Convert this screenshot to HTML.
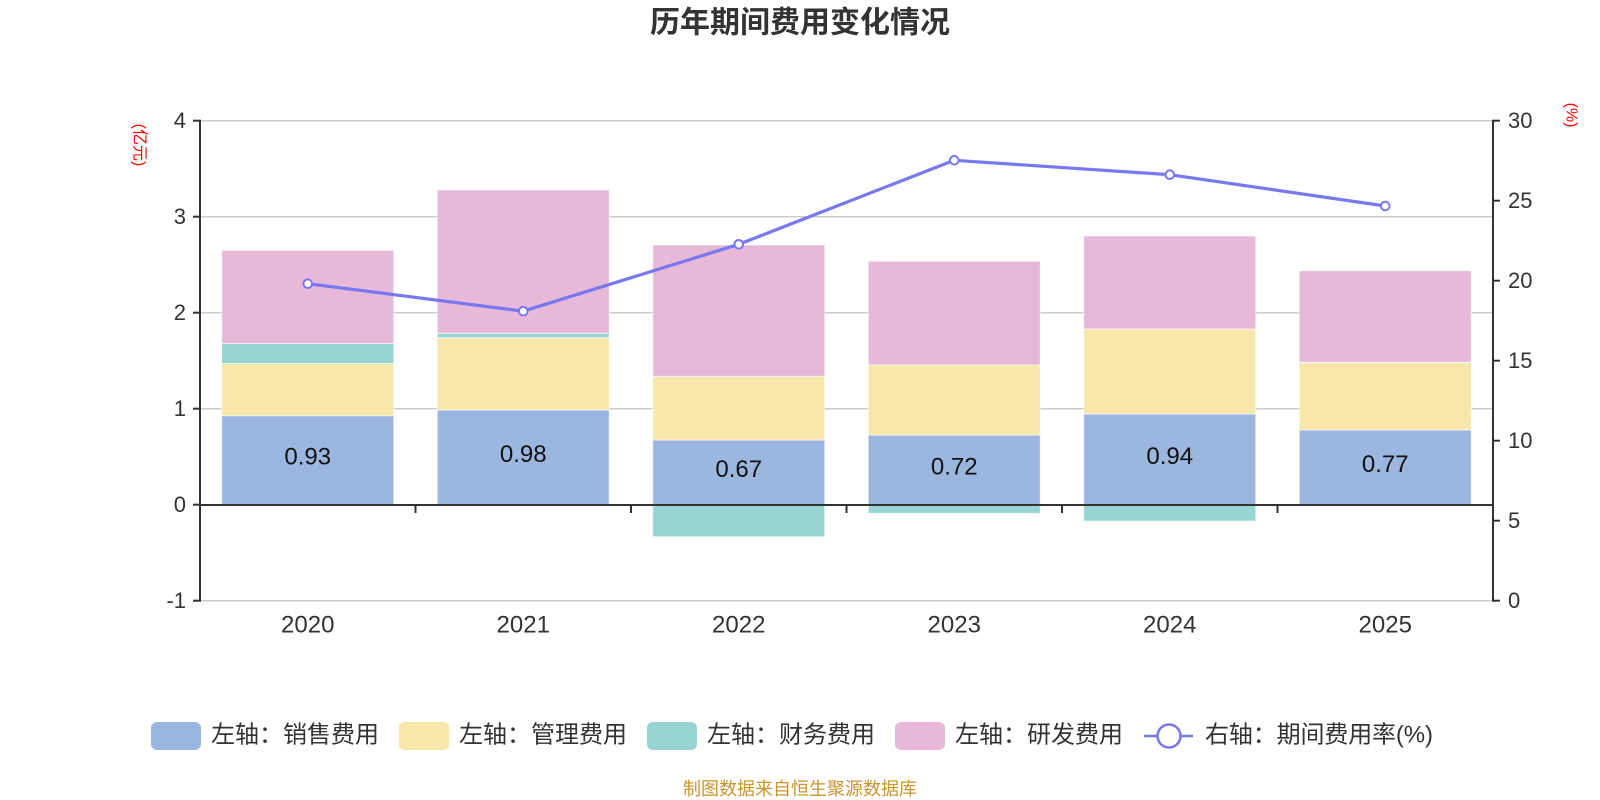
<!DOCTYPE html>
<html>
<head>
<meta charset="utf-8">
<style>
html,body{margin:0;padding:0;background:#fff;}
svg{display:block;}
text{font-family:"Liberation Sans","Noto Sans CJK SC",sans-serif;}
</style>
</head>
<body>
<svg width="1600" height="800" viewBox="0 0 1600 800" xmlns="http://www.w3.org/2000/svg">
  <!-- Title -->
  <text x="800" y="23" text-anchor="middle" dominant-baseline="central" font-size="30" font-weight="700" fill="#333">历年期间费用变化情况</text>

  <!-- gridlines -->
  <g stroke="#cccccc" stroke-width="1.5">
    <line x1="200" y1="120.7" x2="1493" y2="120.7"/>
    <line x1="200" y1="216.7" x2="1493" y2="216.7"/>
    <line x1="200" y1="312.7" x2="1493" y2="312.7"/>
    <line x1="200" y1="408.7" x2="1493" y2="408.7"/>
    <line x1="200" y1="600.7" x2="1493" y2="600.7"/>
  </g>

  <!-- bars -->
  <g stroke="rgba(255,255,255,0.6)" stroke-width="1">
    <!-- 2020 -->
    <rect x="221.75" y="415.7" width="172" height="89.3" fill="#9bb7e0"/>
    <rect x="221.75" y="363.5" width="172" height="52.2" fill="#f8e7aa"/>
    <rect x="221.75" y="343.5" width="172" height="20" fill="#97d4d4"/>
    <rect x="221.75" y="250.3" width="172" height="93.2" fill="#e7b8d8"/>
    <!-- 2021 -->
    <rect x="437.25" y="410" width="172" height="95" fill="#9bb7e0"/>
    <rect x="437.25" y="337.7" width="172" height="72.3" fill="#f8e7aa"/>
    <rect x="437.25" y="333.3" width="172" height="4.4" fill="#97d4d4"/>
    <rect x="437.25" y="190" width="172" height="143.3" fill="#e7b8d8"/>
    <!-- 2022 -->
    <rect x="652.75" y="440" width="172" height="65" fill="#9bb7e0"/>
    <rect x="652.75" y="376.3" width="172" height="63.7" fill="#f8e7aa"/>
    <rect x="652.75" y="245" width="172" height="131.3" fill="#e7b8d8"/>
    <rect x="652.75" y="505" width="172" height="31.7" fill="#97d4d4"/>
    <!-- 2023 -->
    <rect x="868.25" y="435" width="172" height="70" fill="#9bb7e0"/>
    <rect x="868.25" y="365" width="172" height="70" fill="#f8e7aa"/>
    <rect x="868.25" y="261.3" width="172" height="103.7" fill="#e7b8d8"/>
    <rect x="868.25" y="505" width="172" height="8.3" fill="#97d4d4"/>
    <!-- 2024 -->
    <rect x="1083.75" y="414" width="172" height="91" fill="#9bb7e0"/>
    <rect x="1083.75" y="329" width="172" height="85" fill="#f8e7aa"/>
    <rect x="1083.75" y="236" width="172" height="93" fill="#e7b8d8"/>
    <rect x="1083.75" y="505" width="172" height="16" fill="#97d4d4"/>
    <!-- 2025 -->
    <rect x="1299.25" y="430" width="172" height="75" fill="#9bb7e0"/>
    <rect x="1299.25" y="362.7" width="172" height="67.3" fill="#f8e7aa"/>
    <rect x="1299.25" y="270.7" width="172" height="91.5" fill="#e7b8d8"/>
  </g>

  <!-- data labels -->
  <g font-size="24" fill="#111" text-anchor="middle" dominant-baseline="central">
    <text x="307.75" y="457">0.93</text>
    <text x="523.25" y="454.5">0.98</text>
    <text x="738.75" y="469.5">0.67</text>
    <text x="954.25" y="467">0.72</text>
    <text x="1169.75" y="456.5">0.94</text>
    <text x="1385.25" y="464.5">0.77</text>
  </g>

  <!-- axes -->
  <g stroke="#333" stroke-width="2">
    <line x1="200" y1="119.7" x2="200" y2="601.7"/>
    <line x1="1493" y1="119.7" x2="1493" y2="601.7"/>
    <line x1="200" y1="505" x2="1493" y2="505"/>
    <!-- left ticks -->
    <line x1="193" y1="120.7" x2="200" y2="120.7"/>
    <line x1="193" y1="216.7" x2="200" y2="216.7"/>
    <line x1="193" y1="312.7" x2="200" y2="312.7"/>
    <line x1="193" y1="408.7" x2="200" y2="408.7"/>
    <line x1="193" y1="504.7" x2="200" y2="504.7"/>
    <line x1="193" y1="600.7" x2="200" y2="600.7"/>
    <!-- right ticks -->
    <line x1="1493" y1="120.7" x2="1500" y2="120.7"/>
    <line x1="1493" y1="200.7" x2="1500" y2="200.7"/>
    <line x1="1493" y1="280.7" x2="1500" y2="280.7"/>
    <line x1="1493" y1="360.7" x2="1500" y2="360.7"/>
    <line x1="1493" y1="440.7" x2="1500" y2="440.7"/>
    <line x1="1493" y1="520.7" x2="1500" y2="520.7"/>
    <line x1="1493" y1="600.7" x2="1500" y2="600.7"/>
    <!-- x ticks -->
    <line x1="415.5" y1="505" x2="415.5" y2="513"/>
    <line x1="631" y1="505" x2="631" y2="513"/>
    <line x1="846.5" y1="505" x2="846.5" y2="513"/>
    <line x1="1062" y1="505" x2="1062" y2="513"/>
    <line x1="1277.5" y1="505" x2="1277.5" y2="513"/>
  </g>

  <!-- left tick labels -->
  <g font-size="22" fill="#333" text-anchor="end" dominant-baseline="central">
    <text x="186" y="120.7">4</text>
    <text x="186" y="216.7">3</text>
    <text x="186" y="312.7">2</text>
    <text x="186" y="408.7">1</text>
    <text x="186" y="504.7">0</text>
    <text x="186" y="600.7">-1</text>
  </g>
  <!-- right tick labels -->
  <g font-size="22" fill="#333" text-anchor="start" dominant-baseline="central">
    <text x="1508" y="120.7">30</text>
    <text x="1508" y="200.7">25</text>
    <text x="1508" y="280.7">20</text>
    <text x="1508" y="360.7">15</text>
    <text x="1508" y="440.7">10</text>
    <text x="1508" y="520.7">5</text>
    <text x="1508" y="600.7">0</text>
  </g>
  <!-- x labels -->
  <g font-size="24" fill="#333" text-anchor="middle" dominant-baseline="central">
    <text x="307.75" y="625">2020</text>
    <text x="523.25" y="625">2021</text>
    <text x="738.75" y="625">2022</text>
    <text x="954.25" y="625">2023</text>
    <text x="1169.75" y="625">2024</text>
    <text x="1385.25" y="625">2025</text>
  </g>

  <!-- unit labels -->
  <text transform="translate(139,145) rotate(90)" text-anchor="middle" dominant-baseline="central" font-size="16" fill="#ff0000">(亿元)</text>
  <text transform="translate(1571,115) rotate(90)" text-anchor="middle" dominant-baseline="central" font-size="16" fill="#ff0000">(%)</text>

  <!-- line series -->
  <polyline points="307.75,283.7 523.25,311.2 738.75,244.3 954.25,160.3 1169.75,174.7 1385.25,206" fill="none" stroke="#7878f0" stroke-width="3.2" stroke-linejoin="round"/>
  <g fill="#fff" stroke="#7878f0" stroke-width="2">
    <circle cx="307.75" cy="283.7" r="4.3"/>
    <circle cx="523.25" cy="311.2" r="4.3"/>
    <circle cx="738.75" cy="244.3" r="4.3"/>
    <circle cx="954.25" cy="160.3" r="4.3"/>
    <circle cx="1169.75" cy="174.7" r="4.3"/>
    <circle cx="1385.25" cy="206" r="4.3"/>
  </g>

  <!-- legend -->
  <rect x="151" y="722" width="50" height="28" rx="6" fill="#9bb7e0"/>
  <rect x="399" y="722" width="50" height="28" rx="6" fill="#f8e7aa"/>
  <rect x="647" y="722" width="50" height="28" rx="6" fill="#97d4d4"/>
  <rect x="895" y="722" width="50" height="28" rx="6" fill="#e7b8d8"/>
  <line x1="1144" y1="736" x2="1193" y2="736" stroke="#7878f0" stroke-width="2.5"/>
  <circle cx="1169" cy="736" r="11.5" fill="#fff" stroke="#7878f0" stroke-width="2.5"/>
  <g font-size="24" fill="#333" dominant-baseline="central">
    <text x="211" y="735">左轴：销售费用</text>
    <text x="459" y="735">左轴：管理费用</text>
    <text x="707" y="735">左轴：财务费用</text>
    <text x="955" y="735">左轴：研发费用</text>
    <text x="1205" y="735" textLength="228" lengthAdjust="spacing">右轴：期间费用率(%)</text>
  </g>

  <!-- footer -->
  <text x="800" y="789" text-anchor="middle" dominant-baseline="central" font-size="18" fill="#c9952d">制图数据来自恒生聚源数据库</text>
</svg>
</body>
</html>
